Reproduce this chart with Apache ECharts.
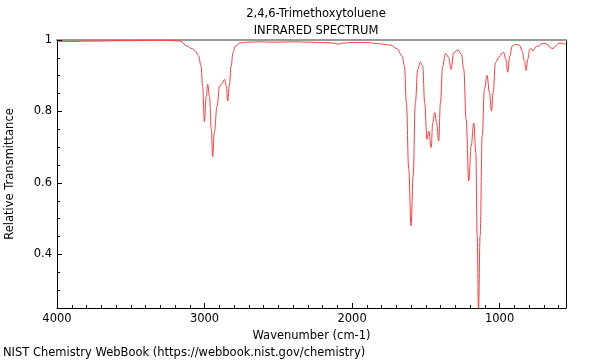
<!DOCTYPE html>
<html>
<head>
<meta charset="utf-8">
<script src="https://cdn.jsdelivr.net/npm/echarts@6/dist/echarts.min.js"></script>
<style>html,body{margin:0;padding:0;background:#fff}#c{width:600px;height:360px}</style>
</head>
<body>
<div id="c"></div>
<script>
var titleText = "2,4,6-Trimethoxytoluene";
var subTitleText = "INFRARED SPECTRUM";
var xName = "Wavenumber (cm-1)";
var yName = "Relative Transmittance";
var footer = "NIST Chemistry WebBook (https://webbook.nist.gov/chemistry)";

var wavenumber = [4000,3900,3800,3700,3600,3500,3400,3300,3250,3200,3164,3119,3085,3062,3040,3024,3013,3001,2988,2979,2967,2954,2945,2934,2915,2898,2881,2864,2852,2843,2832,2820,2807,2791,2757,2700,2622,2550,2500,2400,2300,2200,2150,2120,2093,2070,2000,1950,1900,1850,1808,1740,1695,1661,1645,1632,1616,1600,1586,1571,1555,1537,1521,1508,1492,1480,1464,1453,1440,1427,1413,1401,1386,1367,1352,1345,1329,1311,1281,1259,1243,1227,1209,1193,1175,1161,1152,1143,1132,1118,1103,1085,1069,1055,1044,1028,1006,983,972,958,945,931,915,893,864,847,832,820,809,796,784,773,762,750,739,723,701,678,655,637,622,599,576,554,550];
var transmittance = [0.996,0.996,0.997,0.997,0.998,0.998,0.999,0.999,0.999,0.998,0.997,0.983,0.976,0.969,0.955,0.927,0.871,0.771,0.843,0.876,0.843,0.751,0.673,0.741,0.815,0.871,0.878,0.890,0.871,0.829,0.871,0.927,0.965,0.983,0.992,0.994,0.995,0.994,0.994,0.995,0.994,0.993,0.992,0.991,0.988,0.991,0.993,0.993,0.993,0.991,0.989,0.986,0.976,0.955,0.927,0.825,0.639,0.480,0.620,0.825,0.918,0.938,0.927,0.825,0.722,0.745,0.699,0.769,0.797,0.769,0.717,0.825,0.927,0.962,0.955,0.950,0.918,0.965,0.972,0.960,0.918,0.778,0.606,0.703,0.767,0.685,0.452,0.245,0.452,0.731,0.862,0.901,0.853,0.801,0.853,0.937,0.951,0.963,0.965,0.946,0.910,0.955,0.983,0.988,0.985,0.969,0.941,0.915,0.946,0.974,0.976,0.969,0.976,0.983,0.981,0.988,0.991,0.988,0.978,0.976,0.983,0.991,0.991,0.988,0.988];

var xLabels = [1000,2000,3000,4000];
var xMinorTicks = [];
for (var t = 600; t <= 4000; t += 100) xMinorTicks.push(t);
var yLabels = [0.4,0.6,0.8,1];
var yMinorTicks = [0.25,0.3,0.35,0.4,0.45,0.5,0.55,0.6,0.65,0.7,0.75,0.8,0.85,0.9,0.95,1];

var data = wavenumber.map(function(w,i){return [w, transmittance[i]];});
var font = 'DejaVu Sans';
var fs = 11.5;
var plain = function(v){return String(v);};
var chart = echarts.init(document.getElementById('c'));
chart.setOption({
  animation: false,
  backgroundColor: '#fff',
  textStyle: {fontFamily: font},
  title: [
    {text: titleText, left: 311, top: 3, textAlign: 'center', textStyle: {fontSize: fs, fontWeight: 'normal', color: '#000', fontFamily: font}},
    {text: subTitleText, left: 311, top: 20, textAlign: 'center', textStyle: {fontSize: fs, fontWeight: 'normal', color: '#000', fontFamily: font}}
  ],
  grid: {left: 57, right: 34, top: 40, bottom: 52, show: false, outerBoundsMode: 'none', containLabel: false},
  xAxis: [
    {type: 'value', min: 550, max: 4000, inverse: true, position: 'bottom',
     name: xName, nameLocation: 'middle', nameGap: 18, nameTextStyle: {fontSize: fs, color: '#000', fontFamily: font},
     axisLine: {show: true, lineStyle: {color: '#000', width: 1}},
     axisTick: {show: true, inside: true, length: 3, customValues: xMinorTicks, lineStyle: {color: '#000'}},
     axisLabel: {customValues: xLabels, fontSize: fs, color: '#000', margin: 5, fontFamily: font, formatter: plain},
     splitLine: {show: false}},
    {type: 'value', min: 550, max: 4000, inverse: true, position: 'bottom',
     axisLine: {show: false},
     axisTick: {show: true, inside: true, length: 5, customValues: xLabels, lineStyle: {color: '#000'}},
     axisLabel: {show: false}, splitLine: {show: false}},
    {type: 'value', min: 550, max: 4000, inverse: true, position: 'top',
     axisLine: {show: true, lineStyle: {color: '#999', width: 2}},
     axisTick: {show: false}, axisLabel: {show: false}, splitLine: {show: false}}
  ],
  yAxis: [
    {type: 'value', min: 0.25, max: 1, position: 'left',
     name: yName, nameLocation: 'middle', nameGap: 41, nameTextStyle: {fontSize: fs, color: '#000', fontFamily: font},
     axisLine: {show: true, lineStyle: {color: '#000', width: 1}},
     axisTick: {show: true, inside: true, length: 3, customValues: yMinorTicks, lineStyle: {color: '#000'}},
     axisLabel: {customValues: yLabels, fontSize: fs, color: '#000', margin: 5, fontFamily: font, formatter: plain},
     splitLine: {show: false}},
    {type: 'value', min: 0.25, max: 1, position: 'left',
     axisLine: {show: false},
     axisTick: {show: true, inside: true, length: 5, customValues: yLabels, lineStyle: {color: '#000'}},
     axisLabel: {show: false}, splitLine: {show: false}},
    {type: 'value', min: 0.25, max: 1, position: 'right',
     axisLine: {show: true, lineStyle: {color: '#000', width: 1}},
     axisTick: {show: false}, axisLabel: {show: false}, splitLine: {show: false}}
  ],
  graphic: [
    {type: 'text', left: 3, top: 347, style: {text: footer, fontSize: fs, fill: '#000', fontFamily: font}}
  ],
  series: [{
    type: 'line', data: data, xAxisIndex: 0, yAxisIndex: 0,
    showSymbol: false, smooth: 0.4, smoothMonotone: 'x', clip: true,
    lineStyle: {color: '#ff3b3b', width: 1}
  }]
});
</script>
</body>
</html>
